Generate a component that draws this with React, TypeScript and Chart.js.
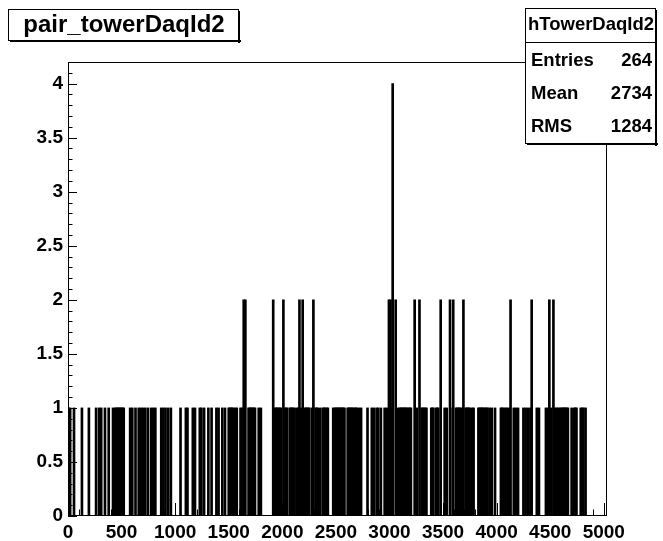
import React, { useEffect, useRef } from "react";
import { Chart, registerables } from "chart.js";

Chart.register(...registerables);

// ---- data (tower DAQ ids with their entry counts) ----
const singleHitIds = [
  5, 20, 56, 130, 195, 262, 290, 310, 345, 380, 420, 440, 450, 460, 470, 480, 490, 500, 510, 520,
  580, 600, 630, 660, 680, 700, 720, 745, 775, 795, 815, 870, 890, 910, 935, 960, 1050, 1100, 1115,
  1165, 1185, 1230, 1245, 1270, 1310, 1340, 1385, 1405, 1440, 1465, 1500, 1510, 1520, 1530, 1540,
  1560, 1575, 1610, 1625, 1685, 1695, 1705, 1715, 1725, 1735, 1745, 1780, 1800, 1935, 1945, 1950,
  1965, 1975, 1985, 2025, 2035, 2045, 2070, 2080, 2090, 2100, 2115, 2140, 2150, 2175, 2210, 2220,
  2230, 2240, 2250, 2275, 2310, 2320, 2330, 2355, 2380, 2390, 2400, 2415, 2425, 2475, 2490, 2500,
  2510, 2520, 2530, 2540, 2550, 2560, 2570, 2580, 2610, 2620, 2630, 2640, 2650, 2660, 2675, 2685,
  2695, 2715, 2735, 2795, 2835, 2855, 2880, 2895, 2920, 2955, 2975, 3025, 3080, 3095, 3105, 3115,
  3125, 3135, 3145, 3155, 3165, 3180, 3190, 3200, 3255, 3300, 3310, 3320, 3335, 3345, 3390, 3400,
  3410, 3435, 3445, 3455, 3515, 3535, 3590, 3620, 3630, 3640, 3650, 3660, 3675, 3710, 3720, 3730,
  3740, 3750, 3770, 3785, 3830, 3840, 3850, 3860, 3870, 3880, 3895, 3905, 3915, 3935, 3955, 3985,
  4040, 4050, 4060, 4080, 4095, 4115, 4160, 4180, 4200, 4250, 4270, 4290, 4315, 4375, 4395, 4460,
  4480, 4510, 4545, 4560, 4575, 4590, 4605, 4615, 4625, 4635, 4645, 4655, 4665, 4700, 4725, 4735,
  4745, 4785, 4800, 4810, 4830,
];
const doubleHitIds = [
  1640, 1655, 1915, 2010, 2160, 2190, 2290, 2995, 3010, 3058, 3235, 3280, 3478, 3565, 3595, 3690,
  4130, 4327, 4492, 4530,
];
const quadHitIds = [3030];

const xTickValues = [0, 500, 1000, 1500, 2000, 2500, 3000, 3500, 4000, 4500, 5000];
const yTickValues = [0, 0.5, 1, 1.5, 2, 2.5, 3, 3.5, 4];
const xRange = [0, 5030];
const yRange = [0, 4.2];

const histTitle = "pair_towerDaqId2";
const statsTitle = "hTowerDaqId2";
const statsLabels = ["Entries", "Mean", "RMS"];
const statsValues = ["264", "2734", "1284"];

const FONT = '"Liberation Sans", Arial, Helvetica, sans-serif';

export default function App() {
  const ref = useRef<HTMLCanvasElement>(null);

  useEffect(() => {
    if (!ref.current) return;
    const points = [
      ...singleHitIds.map((x) => ({ x, y: 1 })),
      ...doubleHitIds.map((x) => ({ x, y: 2 })),
      ...quadHitIds.map((x) => ({ x, y: 4 })),
    ].sort((a, b) => a.x - b.x);

    const rootDecor = {
      id: "rootDecor",
      afterDatasetsDraw(chart: any) {
        const { ctx, chartArea: a, scales } = chart;
        const xs = scales.x;
        const ys = scales.y;
        ctx.save();
        ctx.strokeStyle = "#000";
        ctx.lineWidth = 1;
        // frame
        ctx.strokeRect(a.left + 0.5, a.top + 0.5, a.right - a.left - 1, a.bottom - a.top - 1);
        // y ticks (inside)
        ctx.beginPath();
        for (let i = 0; i <= 42; i++) {
          const v = i / 10;
          const py = Math.round(ys.getPixelForValue(v)) + 0.5;
          const len = i % 5 === 0 ? 9 : 4.5;
          ctx.moveTo(a.left, py);
          ctx.lineTo(a.left + len, py);
        }
        // x ticks (inside)
        for (let v = 0; v <= xRange[1]; v += 100) {
          const px = Math.round(xs.getPixelForValue(v)) + 0.5;
          const len = v % 500 === 0 ? 13 : 6.5;
          ctx.moveTo(px, a.bottom);
          ctx.lineTo(px, a.bottom - len);
        }
        ctx.stroke();

        const box = (l: number, t: number, r: number, b: number) => {
          ctx.fillStyle = "#fff";
          ctx.fillRect(l, t, r - l, b - t);
          ctx.strokeStyle = "#000";
          ctx.lineWidth = 1;
          ctx.strokeRect(l + 0.5, t + 0.5, r - l - 1, b - t - 1);
          ctx.fillStyle = "#000";
          ctx.fillRect(r - 1, t + 2, 2, b - t);
          ctx.fillRect(l + 2, b - 1, r - l, 2);
        };

        // title box
        box(8, 9, 239, 41);
        ctx.fillStyle = "#000";
        ctx.font = `bold 24px ${FONT}`;
        ctx.textAlign = "center";
        ctx.textBaseline = "middle";
        ctx.fillText(histTitle, 124, 25);

        // stats box
        box(525, 8, 656, 144);
        ctx.fillStyle = "#000";
        ctx.font = `bold 18.5px ${FONT}`;
        ctx.textAlign = "center";
        ctx.fillText(statsTitle, 591, 25);
        ctx.beginPath();
        ctx.moveTo(525, 42.5);
        ctx.lineTo(656, 42.5);
        ctx.stroke();
        const rowsY = [61, 94, 127];
        statsLabels.forEach((lab, i) => {
          ctx.textAlign = "left";
          ctx.fillText(lab, 531, rowsY[i]);
          ctx.textAlign = "right";
          ctx.fillText(statsValues[i], 652, rowsY[i]);
        });
        ctx.restore();
      },
    };

    const chart = new Chart(ref.current, {
      type: "bar",
      data: {
        datasets: [
          {
            data: points as any,
            backgroundColor: "#000",
            borderWidth: 0,
            barThickness: 2,
          },
        ],
      },
      options: {
        animation: false,
        responsive: false,
        devicePixelRatio: 1,
        layout: { padding: { left: 0, right: 56, top: 62, bottom: 0 } },
        plugins: {
          legend: { display: false },
          tooltip: { enabled: false },
          title: { display: false },
        },
        scales: {
          x: {
            type: "linear",
            min: xRange[0],
            max: xRange[1],
            offset: false,
            grid: { display: false, drawTicks: false, offset: false },
            border: { display: false },
            afterBuildTicks: (s: any) => {
              s.ticks = xTickValues.map((value) => ({ value }));
            },
            afterFit: (s: any) => {
              s.height = 25;
            },
            ticks: {
              color: "#000",
              padding: 5,
              autoSkip: false,
              maxRotation: 0,
              font: { family: FONT, size: 19, weight: "bold" },
              callback: (v: any) => String(v),
            },
          },
          y: {
            type: "linear",
            min: yRange[0],
            max: yRange[1],
            grid: { display: false, drawTicks: false },
            border: { display: false },
            afterBuildTicks: (s: any) => {
              s.ticks = yTickValues.map((value) => ({ value }));
            },
            afterFit: (s: any) => {
              s.width = 68;
            },
            ticks: {
              color: "#000",
              padding: 5,
              autoSkip: false,
              font: { family: FONT, size: 19, weight: "bold" },
              callback: (v: any) => String(v),
            },
          },
        },
      },
      plugins: [rootDecor],
    });
    return () => chart.destroy();
  }, []);

  return (
    <div style={{ position: "fixed", left: 0, top: 0, width: 663, height: 541, background: "#fff" }}>
      <canvas ref={ref} width={663} height={541} style={{ display: "block" }} />
    </div>
  );
}
